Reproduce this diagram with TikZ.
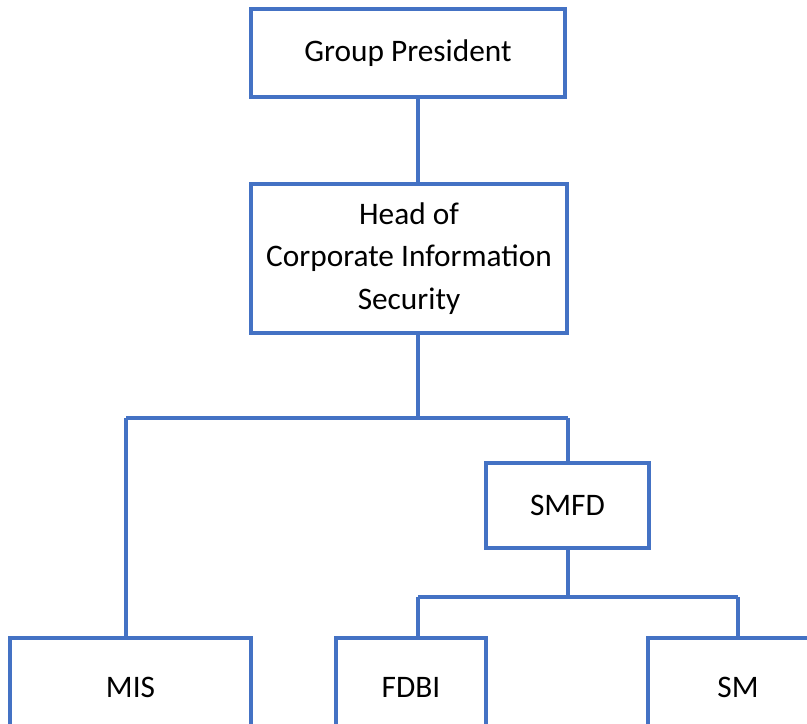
\documentclass[tikz,border=0pt]{standalone}
\usepackage{fontspec}
\setmainfont{Carlito}
\usepackage{xcolor}
\usepackage{tikz}
\usetikzlibrary{positioning}
\definecolor{orgblue}{HTML}{4472C4}

\begin{document}
\begin{tikzpicture}[
      x=0.75pt, y=-0.75pt,
      box/.style={rectangle, draw=orgblue, line width=3pt, fill=white, inner sep=0pt, align=center, font=\fontsize{23.5}{32}\selectfont},
      link/.style={draw=orgblue, line width=3pt}
  ]

  \clip (0,0) rectangle (807,724);
  \useasboundingbox (0,0) rectangle (807,724);

  % Nodes
  \node (gp) [box, minimum width=314*0.75pt, minimum height=88*0.75pt] at (408,53) {Group President};
  \node (hd) [box, minimum width=316*0.75pt, minimum height=149*0.75pt] at (409,258.5) {Head of\\Corporate Information\\Security};
  \node (smfd) [box, minimum width=163*0.75pt, minimum height=85*0.75pt] at (567.5,505.5) {SMFD};
  \node (mis) [box, minimum width=241*0.75pt, minimum height=98*0.75pt] at (130.5,687) {MIS};
  \node (fdbi) [box, minimum width=150*0.75pt, minimum height=98*0.75pt] at (411,687) {FDBI};
  \node (sm) [box, minimum width=180*0.75pt, minimum height=98*0.75pt] at (738,687) {SM};

  % Junctions
  \coordinate (spine) at (418,418);
  \coordinate (lefttop) at (126,418);
  \coordinate (split) at (418,597);

  % Connectors
  \draw [link] (gp.south -| spine) -- (hd.north -| spine);
  \draw [link] (hd.south -| spine) -- (spine);
  \draw [link] (lefttop) -- (smfd.north |- spine);
  \draw [link] (lefttop) -- (lefttop |- mis.north);
  \draw [link] (smfd.north |- spine) -- (smfd.north);
  \draw [link] (smfd.south) -- (smfd.south |- split);
  \draw [link] (split) -- (split -| sm.north);
  \draw [link] (split) -- (split |- fdbi.north);
  \draw [link] (split -| sm.north) -- (sm.north);

\end{tikzpicture}
\end{document}
